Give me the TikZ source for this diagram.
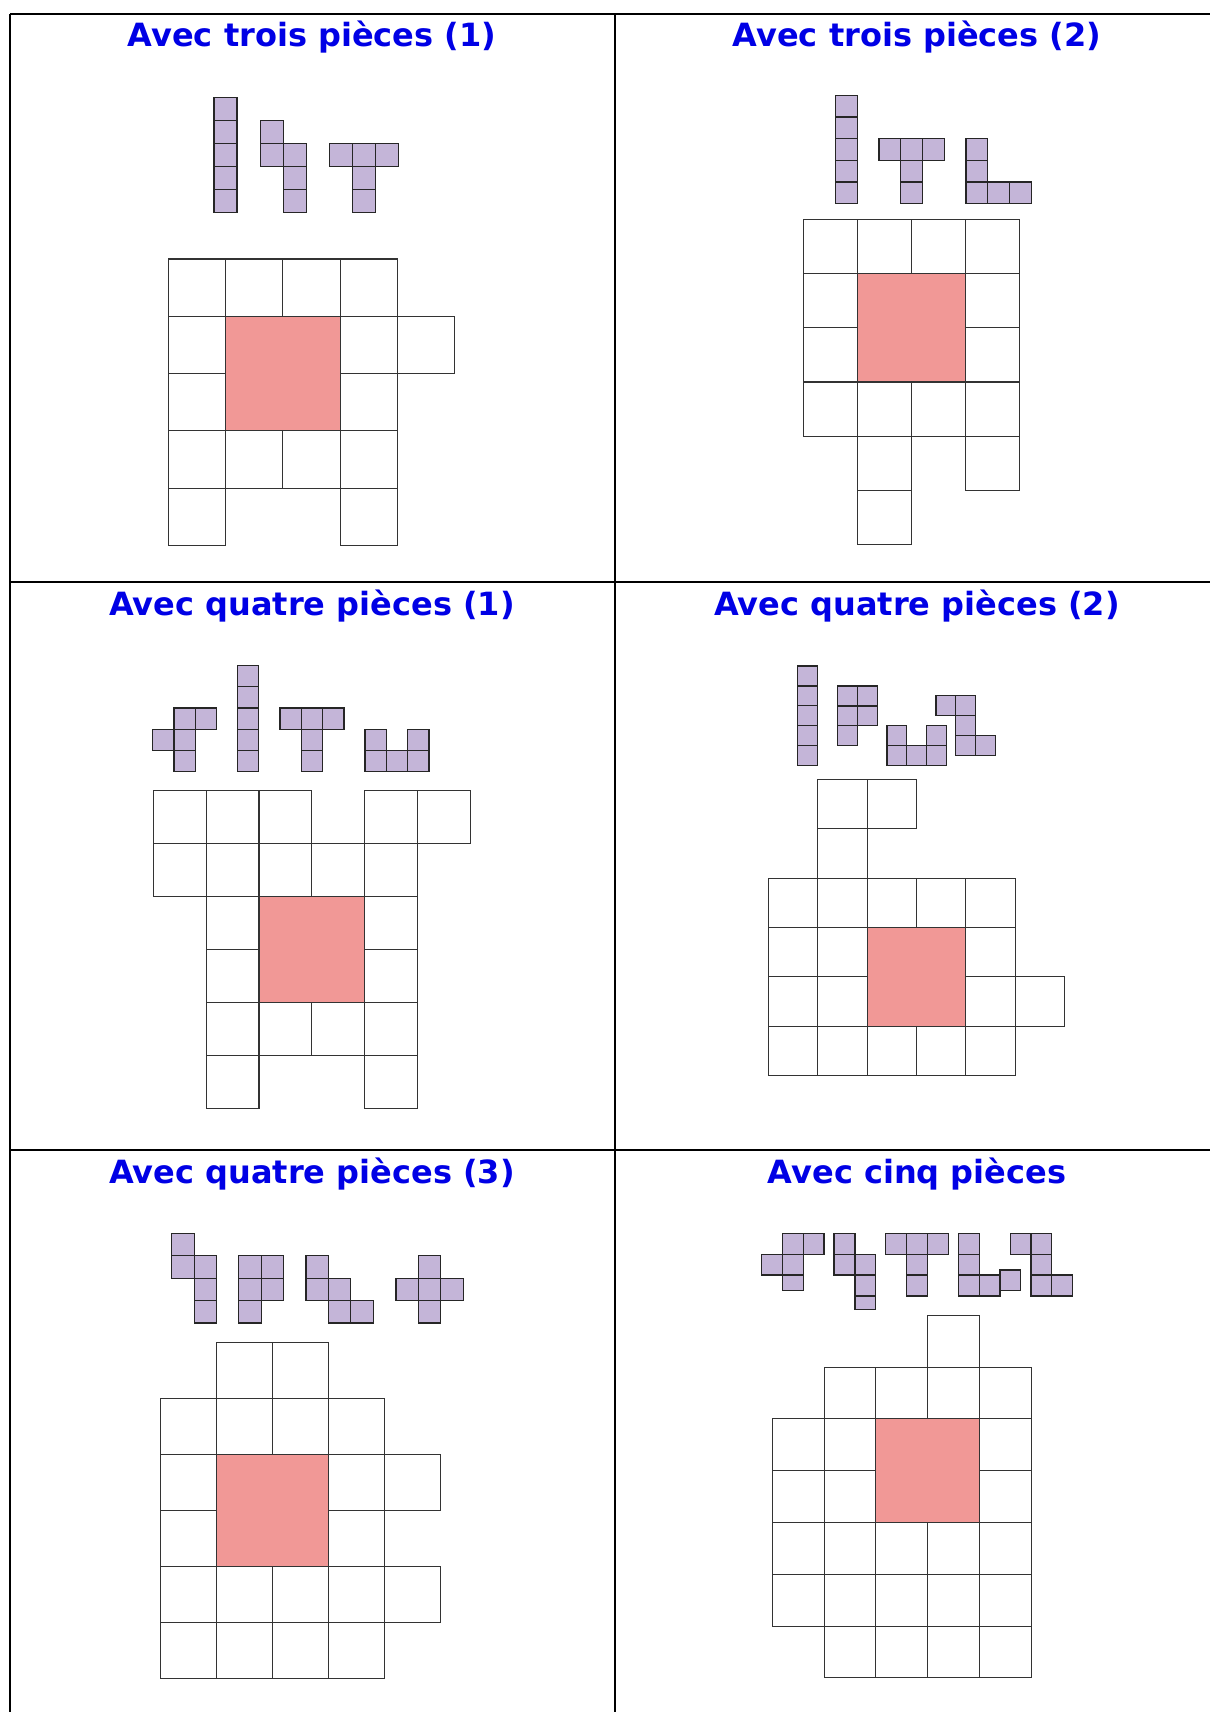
\documentclass[tikz,border=0pt]{standalone}
\usepackage{fontspec}
\setmainfont{DejaVu Sans}
\begin{document}
\begin{tikzpicture}[x=0.5pt,y=-0.5pt,
  tbl/.style={line width=1pt,black},
  title/.style={anchor=base,text=blue!90!black,font=\fontsize{16}{18}\selectfont\bfseries,inner sep=0pt},
  gridcell/.style={draw=black!80,line width=0.55pt,fill=white},
  piece/.style={draw=black!85,line width=0.6pt,fill=piececol},
  hole/.style={draw=black!80,line width=0.55pt,fill=holecol}]
\definecolor{piececol}{RGB}{196,181,216}
\definecolor{holecol}{RGB}{241,152,150}
\useasboundingbox (0,0) rectangle (1210,1712);
\newcommand\cellset[5]{\foreach \c/\r in {#5} {\draw[#1] ({#2+\c*#4},{#3+\r*#4}) rectangle ++(#4,#4);}}
% table
\coordinate (tl) at (10,14);
\draw[tbl] (10,14) -- (1210,14);
\draw[tbl] (10,582) -- (1210,582);
\draw[tbl] (10,1150) -- (1210,1150);
\draw[tbl] (10,14) -- (10,1712);
\draw[tbl] (615,14) -- (615,1712);
% titles
\node[title] (t1) at (312,47) {Avec trois pièces (1)};
\node[title] (t2) at (917,47) {Avec trois pièces (2)};
\node[title] (t3) at (312,615) {Avec quatre pièces (1)};
\node[title] (t4) at (917,615) {Avec quatre pièces (2)};
\node[title] (t5) at (312,1183) {Avec quatre pièces (3)};
\node[title] (t6) at (917,1183) {Avec cinq pièces};
% ---------- panel 1
\cellset{piece}{214}{97.7}{23}{0/0,0/1,0/2,0/3,0/4}
\cellset{piece}{260.7}{97.7}{23}{0/1,0/2,1/2,1/3,1/4}
\cellset{piece}{329.3}{97.7}{23}{0/2,1/2,2/2,1/3,1/4}
\cellset{gridcell}{168.3}{259}{57.3}{0/0,1/0,2/0,3/0,0/1,3/1,4/1,0/2,3/2,0/3,1/3,2/3,3/3,0/4,3/4}
\draw[hole] (225.6,316.3) rectangle ++(114.6,114.6);
% ---------- panel 2
\cellset{piece}{835.7}{95.3}{21.7}{0/0,0/1,0/2,0/3,0/4}
\cellset{piece}{879}{95.3}{21.7}{0/2,1/2,2/2,1/3,1/4}
\cellset{piece}{966}{95.3}{21.7}{0/2,0/3,0/4,1/4,2/4}
\cellset{gridcell}{803.3}{219.7}{54.1}{0/0,1/0,2/0,3/0,0/1,3/1,0/2,3/2,0/3,1/3,2/3,3/3,1/4,3/4,1/5}
\draw[hole] (857.4,273.8) rectangle ++(108.2,108.2);
% ---------- panel 3
\cellset{piece}{152.7}{665.3}{21.3}{1/2,2/2,0/3,1/3,1/4}
\cellset{piece}{237.5}{665.3}{21.3}{0/0,0/1,0/2,0/3,0/4}
\cellset{piece}{280}{665.3}{21.3}{0/2,1/2,2/2,1/3,1/4}
\cellset{piece}{365}{665.3}{21.3}{0/3,2/3,0/4,1/4,2/4}
\cellset{gridcell}{153.2}{790.7}{52.9}{0/0,1/0,2/0,4/0,5/0,0/1,1/1,2/1,3/1,4/1,1/2,4/2,1/3,4/3,1/4,2/4,3/4,4/4,1/5,4/5}
\draw[hole] (259,896.5) rectangle ++(105.8,105.8);
% ---------- panel 4
\cellset{piece}{797.7}{666}{19.9}{0/0,0/1,0/2,0/3,0/4}
\cellset{piece}{837.7}{686}{19.9}{0/0,1/0,0/1,1/1,0/2}
\cellset{piece}{887}{725.7}{19.8}{0/0,2/0,0/1,1/1,2/1}
\cellset{piece}{936}{695.7}{19.8}{0/0,1/0,1/1,1/2,2/2}
\cellset{gridcell}{768.3}{779.3}{49.4}{1/0,2/0,1/1,0/2,1/2,2/2,3/2,4/2,0/3,1/3,4/3,0/4,1/4,4/4,5/4,0/5,1/5,2/5,3/5,4/5}
\draw[hole] (867.1,927.5) rectangle ++(98.8,98.8);
% ---------- panel 5
\cellset{piece}{171.7}{1233.3}{22.4}{0/0,0/1,1/1,1/2,1/3}
\cellset{piece}{238.7}{1233.3}{22.4}{0/1,1/1,0/2,1/2,0/3}
\cellset{piece}{306}{1233.3}{22.4}{0/1,0/2,1/2,1/3,2/3}
\cellset{piece}{396}{1233.3}{22.4}{1/1,0/2,1/2,2/2,1/3}
\cellset{gridcell}{160.3}{1342.3}{56.1}{1/0,2/0,0/1,1/1,2/1,3/1,0/2,3/2,4/2,0/3,3/3,0/4,1/4,2/4,3/4,4/4,0/5,1/5,2/5,3/5}
\draw[hole] (216.4,1454.5) rectangle ++(112.2,112.2);
% ---------- panel 6
\foreach \xa/\ya/\xb/\yb in {
  782.3/1233.3/803.3/1254.3, 803.3/1233.3/824/1254.3, 761.7/1254.3/782.3/1275,
  782.3/1254.3/803.3/1275, 782.3/1275/803.3/1290.7,
  834/1233.3/855/1254.3, 834/1254.3/855/1275, 855/1254.3/875.7/1275,
  855/1275/875.7/1296, 855/1296/875.7/1309.3,
  885.7/1233.3/906.7/1254.3, 906.7/1233.3/927.3/1254.3, 927.3/1233.3/948.3/1254.3,
  906.7/1254.3/927.3/1275, 906.7/1275/927.3/1296,
  958.3/1233.3/979.3/1254.3, 958.3/1254.3/979.3/1275, 958.3/1275/979.3/1296,
  979.3/1275/1000/1296, 1000/1270/1020.7/1290.7,
  1010.7/1233.3/1031/1254.3, 1031/1233.3/1051.7/1254.3, 1031/1254.3/1051.7/1275,
  1031/1275/1051.7/1296, 1051.7/1275/1072.3/1296}
  {\draw[piece] (\xa,\ya) rectangle (\xb,\yb);}
\cellset{gridcell}{772.3}{1315.3}{51.8}{3/0,1/1,2/1,3/1,4/1,0/2,1/2,4/2,0/3,1/3,4/3,0/4,1/4,2/4,3/4,4/4,0/5,1/5,2/5,3/5,4/5,1/6,2/6,3/6,4/6}
\draw[hole] (875.9,1418.9) rectangle ++(103.6,103.6);
\end{tikzpicture}
\end{document}
